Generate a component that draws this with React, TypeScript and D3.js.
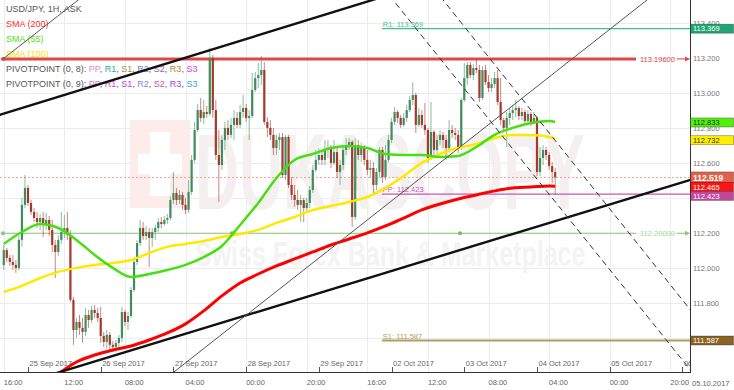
import React from "react";
import * as d3 from "d3";

// ---------- DATA (hours counted from 25 Sep 2017 00:00, weekend skipped) ----------
const FIRST_BAR_HOUR = -8; // 24 Sep 16:00
const FIRST_OPEN = 112.019;

const closes = [
  112.104,112.059,112.036,112.019,112.002,112.162,112.362,112.459,112.373,112.322,
  112.287,112.264,112.287,112.247,112.276,112.219,112.133,112.093,112.162,112.207,
  112.230,112.190,111.819,111.647,111.693,111.659,111.636,111.733,111.704,111.762,
  111.744,111.716,111.613,111.579,111.619,111.562,111.550,111.573,111.602,111.750,
  111.693,111.727,111.876,112.036,112.144,112.230,112.184,112.207,112.173,112.207,
  112.230,112.264,112.253,112.276,112.287,112.390,112.430,112.390,112.419,112.362,
  112.333,112.436,112.619,112.790,112.904,112.859,112.893,112.882,113.202,112.904,
  112.647,112.590,112.733,112.802,112.762,112.819,112.859,112.819,112.893,112.916,
  112.859,112.870,113.019,113.087,113.104,113.133,112.836,112.802,112.762,112.687,
  112.733,112.750,112.533,112.750,112.476,112.419,112.390,112.362,112.390,112.344,
  112.373,112.447,112.562,112.619,112.647,112.619,112.676,112.687,112.602,112.664,
  112.550,112.590,112.676,112.704,112.722,112.293,112.704,112.647,112.687,112.619,
  112.562,112.573,112.476,112.550,112.676,112.521,112.619,112.733,112.836,112.893,
  112.859,112.819,112.859,112.904,112.962,112.990,112.819,112.876,112.819,112.790,
  112.630,112.779,112.676,112.733,112.762,112.733,112.687,112.790,112.773,112.762,
  112.687,112.962,113.087,113.162,113.104,113.144,113.133,112.973,113.133,113.064,
  113.030,113.053,113.087,112.950,112.847,112.802,112.859,112.887,112.904,112.916,
  112.870,112.893,112.842,112.882,112.836,112.859,112.550,112.630,112.676,112.647,
  112.584,112.550,112.519,
];
const highs = [
  112.133,112.116,112.076,112.076,112.047,112.184,112.402,112.533,112.476,112.390,
  112.344,112.322,112.310,112.322,112.316,112.299,112.276,112.162,112.190,112.322,
  112.304,112.322,112.219,111.836,111.716,111.733,111.716,111.773,111.762,111.784,
  111.790,111.773,111.779,111.636,111.647,111.636,111.584,111.590,111.619,111.779,
  111.762,111.750,111.893,112.059,112.162,112.276,112.264,112.242,112.230,112.230,
  112.247,112.287,112.293,112.299,112.310,112.413,112.550,112.459,112.447,112.436,
  112.402,112.504,112.647,112.836,112.939,112.973,112.962,112.927,113.259,113.219,
  112.962,112.790,112.762,112.836,112.847,112.859,112.904,112.893,112.933,112.990,
  112.939,112.904,113.116,113.122,113.173,113.213,113.179,112.864,112.847,112.802,
  112.762,112.773,112.773,112.762,112.762,112.521,112.476,112.447,112.419,112.402,
  112.402,112.470,112.590,112.676,112.687,112.676,112.733,112.733,112.704,112.733,
  112.687,112.619,112.704,112.744,112.744,112.733,112.744,112.733,112.716,112.704,
  112.676,112.619,112.607,112.573,112.693,112.693,112.704,112.762,112.859,112.922,
  112.904,112.876,112.887,112.933,112.984,113.064,113.002,112.916,112.904,112.944,
  112.802,112.950,112.790,112.762,112.790,112.779,112.762,112.847,112.819,112.802,
  112.790,112.973,113.173,113.179,113.179,113.167,113.190,113.162,113.156,113.162,
  113.104,113.087,113.122,113.133,113.087,112.859,112.893,112.916,112.933,112.962,
  112.927,112.916,112.904,112.904,112.893,112.893,112.870,112.693,112.704,112.693,
  112.664,112.607,112.573,
];
const lows = [
  111.990,112.036,112.013,111.990,111.973,111.990,112.122,112.344,112.356,112.304,
  112.264,112.230,112.219,112.179,112.219,112.184,112.093,111.944,112.070,112.139,
  112.173,112.162,111.807,111.562,111.602,111.619,111.573,111.613,111.659,111.687,
  111.716,111.693,111.573,111.550,111.539,111.533,111.522,111.533,111.544,111.579,
  111.670,111.647,111.716,111.864,112.019,112.127,112.162,112.162,112.007,112.122,
  112.162,112.207,112.230,112.242,112.253,112.276,112.367,112.362,112.367,112.333,
  112.310,112.316,112.419,112.602,112.779,112.836,112.824,112.859,112.870,112.859,
  112.619,112.379,112.562,112.676,112.733,112.744,112.733,112.802,112.802,112.859,
  112.836,112.733,112.859,113.007,113.030,113.047,112.819,112.750,112.733,112.647,
  112.647,112.676,112.516,112.504,112.459,112.390,112.350,112.333,112.264,112.264,
  112.322,112.344,112.430,112.550,112.590,112.590,112.590,112.630,112.573,112.590,
  112.516,112.476,112.562,112.647,112.676,112.236,112.276,112.619,112.607,112.590,
  112.533,112.516,112.430,112.447,112.516,112.487,112.504,112.602,112.716,112.819,
  112.830,112.802,112.807,112.836,112.893,112.933,112.773,112.807,112.802,112.762,
  112.602,112.619,112.636,112.647,112.704,112.687,112.619,112.676,112.744,112.733,
  112.659,112.676,112.950,113.047,113.087,113.076,113.116,112.950,112.962,113.047,
  113.007,113.007,113.030,112.933,112.819,112.779,112.693,112.819,112.847,112.864,
  112.847,112.847,112.819,112.830,112.813,112.824,112.527,112.527,112.590,112.619,
  112.562,112.487,112.419,
];

const smaHours = [-8,-2,4,10,16,22,28,34,40,46,52,58,64,70,76,82,88,94,100,106,112,118,124,130,136,142,148,154,160,166,172,174];
const sma55 = [
  112.139,112.207,112.253,112.230,112.162,112.076,112.002,111.950,111.967,111.990,
  112.019,112.064,112.127,112.247,112.373,112.516,112.619,112.653,112.687,112.699,
  112.687,112.653,112.647,112.647,112.636,112.642,112.693,112.762,112.802,112.830,
  112.842,112.836,
];
const sma100 = [
  111.864,111.899,111.944,111.979,112.002,112.019,112.030,112.047,112.087,112.122,
  112.139,112.156,112.179,112.196,112.219,112.259,112.293,112.333,112.356,112.379,
  112.407,112.459,112.527,112.602,112.653,112.687,112.710,112.744,112.762,112.762,
  112.750,112.739,
];
const sma200Hours = smaHours.slice(3);
const sma200 = [
  111.396,111.464,111.504,111.533,111.556,111.590,111.630,111.682,111.756,111.842,
  111.916,111.967,112.013,112.053,112.093,112.133,112.167,112.202,112.242,112.287,
  112.333,112.367,112.396,112.419,112.442,112.459,112.464,112.470,112.468,
];

const dayLabels = ["25 Sep 2017","26 Sep 2017","27 Sep 2017","28 Sep 2017","29 Sep 2017","02 Oct 2017","03 Oct 2017","04 Oct 2017","05 Oct 2017","06 Oct 2017"];
const dayHours = [0,24,48,72,96,120,144,168,192,216];
const hourLabels = ["16:00","12:00","08:00","04:00","00:00","20:00","16:00","12:00","08:00","04:00","00:00","20:00"];
const hourTicks = [-8,12,32,52,72,92,112,132,152,172,192,212];
const priceTicks = [113.4,113.2,113.0,112.8,112.6,112.4,112.2,112.0,111.8,111.6];

const pivotStartHour = 116.8;
const pivotNames = ["R1","PP","S1"];
const pivotValues = [113.369,112.423,111.587];
const pivotColors = ["#3fbf8e","#cc55b2","#b49a66"];

const levelStartHour = -8.25;
const levelValues = [113.196, 112.2];
const levelLabels = ["113.19600","112.20000"];
const levelColors = ["#e04848","#86c878"];
const levelDotHours = [67.3, 142.6];

const channelThick = [[[0,112.926],[100,113.460]],[[0,111.351],[200,112.407]]];
const channelThin = [[60,111.568],[180,113.202]];
const channelRay = [[-8.25,113.196],[0,113.308]];
const dashedLines = [[[130,113.328],[200,111.820]],[[150,113.251],[210,111.949]]];

const lastPrice = 112.519;

const boxValues = [113.369,112.833,112.732,112.519,112.465,112.423,111.587];
const boxFills = ["#20a672","#55ee11","#ffee00","#e0624e","#ff1414","#c0489a","#8a6424"];
const boxText = ["#ffffff","#1c3a10","#333333","#ffffff","#ffffff","#ffffff","#ffffff"];

// ---------- LAYOUT ----------
const W = 734, H = 390, PR = 690, PB = 372;
const FONT = "'Liberation Sans', Arial, sans-serif";

const xs = d3.scaleLinear().domain([-9.24, 218.5]).range([0, PR]);
const ys = d3.scaleLinear().domain([111.407, 113.533]).range([PB, 0]);
const fmt = d3.format(".3f");

function extLine(p1: number[], p2: number[], ray = false) {
  const x1 = xs(p1[0]), y1 = ys(p1[1]), x2 = xs(p2[0]), y2 = ys(p2[1]);
  const dx = x2 - x1, dy = y2 - y1;
  const t0 = ray ? 0 : -60, t1 = 60;
  return { x1: x1 + dx * t0, y1: y1 + dy * t0, x2: x1 + dx * t1, y2: y1 + dy * t1 };
}

export default function App() {
  const line = (hrs: number[], vals: number[]) =>
    d3.line<number>().x((_, i) => xs(hrs[i])).y((v) => ys(v)).curve(d3.curveMonotoneX)(vals) || "";

  const candles = closes.map((c, i) => {
    const o = i === 0 ? FIRST_OPEN : closes[i - 1];
    const x = xs(FIRST_BAR_HOUR + i);
    const up = c >= o;
    const top = ys(Math.max(o, c));
    const bot = ys(Math.min(o, c));
    const hi = ys(Math.max(highs[i], o, c));
    const lo = ys(Math.min(lows[i], o, c));
    const col = up ? "#3f8d5e" : "#a5392b";
    return (
      <g key={i}>
        <line x1={x} x2={x} y1={hi} y2={lo} stroke={col} strokeOpacity={0.6} strokeWidth={1} />
        <rect x={x - 1.1} y={top} width={2.2} height={Math.max(1, bot - top)} fill={col} />
      </g>
    );
  });

  // stack the axis value boxes so they do not cover each other
  const boxPos: number[] = [];
  const order = boxValues.map((v, i) => i).sort((a, b) => ys(boxValues[a]) - ys(boxValues[b]));
  let prev = -100;
  order.forEach((i) => {
    let y = ys(boxValues[i]);
    if (y < prev + 9) y = prev + 9;
    boxPos[i] = y;
    prev = y;
  });

  const legendRow1 = [["PP","#e08ad2"],["R1","#2fb380"],["S1","#a88a48"],["R2","#6f86cc"],["S2","#8e6c9c"],["R3","#b48444"],["S3","#e040e0"]];
  const legendRow2 = [["PP","#e070e0"],["R1","#d248d2"],["S1","#b648d8"],["R2","#8a80e4"],["S2","#c452a8"],["R3","#a846c4"],["S3","#40a6c8"]];

  const legendPivot = (label: string, items: string[][], y: number) => (
    <text x={6} y={y} fontSize={9} fontFamily={FONT} fill="#555">
      {label}
      {items.map((it, i) => (
        <React.Fragment key={i}>
          <tspan fill={it[1]}>{it[0]}</tspan>
          {i < items.length - 1 ? <tspan fill="#555">, </tspan> : null}
        </React.Fragment>
      ))}
    </text>
  );

  return (
    <svg width={W} height={H} style={{ position: "fixed", left: 0, top: 0, background: "#fff" }}>
      <defs>
        <clipPath id="plot"><rect x={0} y={0} width={PR} height={PB} /></clipPath>
      </defs>
      <rect x={0} y={0} width={W} height={H} fill="#fff" />

      {/* grid */}
      <g stroke="#ececec" strokeWidth={1}>
        {priceTicks.map((p, i) => (
          <line key={"h" + i} x1={0} x2={PR} y1={Math.round(ys(p)) + 0.5} y2={Math.round(ys(p)) + 0.5} />
        ))}
        {hourTicks.map((h, i) => (
          <line key={"v" + i} x1={Math.round(xs(h)) + 0.5} x2={Math.round(xs(h)) + 0.5} y1={0} y2={PB} />
        ))}
      </g>

      {/* watermark */}
      <g>
        <rect x={130} y={120} width={60} height={88} fill="#fcecec" />
        <rect x={150} y={132} width={20} height={64} fill="#ffffff" />
        <rect x={138} y={154} width={44} height={20} fill="#ffffff" />
        <text transform="translate(195,209) scale(1,1.75)" x={0} y={0} fontFamily={FONT} fontWeight="bold" fontSize={61} fill="#f4f0f0">DUKASCOPY</text>
        <text transform="translate(195,266) scale(1,1.4)" x={0} y={0} fontFamily={FONT} fontWeight="bold" fontSize={25} fill="#f3f3f3">Swiss Forex Bank &amp; Marketplace</text>
      </g>

      {/* legend */}
      <g>
        <text x={6} y={12} fontSize={9} fontFamily={FONT} fill="#555">USD/JPY, 1H, ASK</text>
        <text x={6} y={27} fontSize={9} fontFamily={FONT} fill="#ff3030">SMA (200)</text>
        <text x={6} y={42} fontSize={9} fontFamily={FONT} fill="#55e020">SMA (55)</text>
        <text x={6} y={57} fontSize={9} fontFamily={FONT} fill="#f2e200">SMA (100)</text>
        {legendPivot("PIVOTPOINT (0, 8): ", legendRow1, 72)}
        {legendPivot("PIVOTPOINT (0, 9): ", legendRow2, 87)}
      </g>

      <g clipPath="url(#plot)">
        {/* current price dotted */}
        <line x1={0} x2={PR} y1={ys(lastPrice)} y2={ys(lastPrice)} stroke="#f0a090" strokeWidth={1} strokeDasharray="2,2" />

        {/* pivot levels */}
        {pivotValues.map((v, i) => (
          <g key={"pv" + i}>
            <line x1={xs(pivotStartHour)} x2={PR} y1={ys(v)} y2={ys(v)} stroke={pivotColors[i]} strokeWidth={i === 2 ? 2 : 1.2} />
            <text x={xs(pivotStartHour) + 1} y={ys(v) - 2} fontSize={7.5} fontFamily={FONT} fill={pivotColors[i]}>
              {pivotNames[i]}: {fmt(v)}
            </text>
          </g>
        ))}

        {/* horizontal levels */}
        {levelValues.map((v, i) => {
          const y = ys(v);
          return (
            <g key={"lv" + i}>
              <line x1={xs(levelStartHour)} x2={636} y1={y} y2={y} stroke={levelColors[i]} strokeWidth={i === 0 ? 3 : 1} />
              <line x1={677} x2={686} y1={y} y2={y} stroke={levelColors[i]} strokeWidth={1} />
              <polygon points={`${PR},${y} ${PR - 5},${y - 2.5} ${PR - 5},${y + 2.5}`} fill={levelColors[i]} />
              <text x={640} y={y + 2.6} fontSize={7.5} fontFamily={FONT} fill={i === 0 ? "#e04848" : "#a8d8a0"}>{levelLabels[i]}</text>
              <circle cx={xs(levelStartHour)} cy={y} r={2} fill={levelColors[i]} />
            </g>
          );
        })}
        {levelDotHours.map((h, i) => (
          <circle key={"ld" + i} cx={xs(h)} cy={ys(levelValues[1])} r={2} fill="#6cbf5c" />
        ))}

        {/* candles */}
        <g>{candles}</g>

        {/* SMAs */}
        <path d={line(sma200Hours, sma200)} fill="none" stroke="#ff0000" strokeWidth={3} />
        <path d={line(smaHours, sma100)} fill="none" stroke="#ffe900" strokeWidth={2.5} />
        <path d={line(smaHours, sma55)} fill="none" stroke="#45e010" strokeWidth={2.5} />

        {/* trend lines */}
        {channelThick.map((l, i) => {
          const e = extLine(l[0], l[1]);
          return <line key={"ct" + i} {...e} stroke="#111" strokeWidth={2.4} />;
        })}
        {(() => { const e = extLine(channelThin[0], channelThin[1]); return <line {...e} stroke="#555" strokeWidth={1} />; })()}
        {(() => { const e = extLine(channelRay[0], channelRay[1], true); return <line {...e} stroke="#555" strokeWidth={1} />; })()}
        {dashedLines.map((l, i) => {
          const e = extLine(l[0], l[1]);
          return <line key={"dl" + i} {...e} stroke="#333" strokeWidth={1} strokeDasharray="6,4" />;
        })}

        {/* date labels above axis */}
        {dayHours.map((h, i) => (
          <g key={"d" + i}>
            <line x1={Math.round(xs(h)) + 0.5} x2={Math.round(xs(h)) + 0.5} y1={PB - 5} y2={PB} stroke="#555" />
            <text x={xs(h) + 1.5} y={PB - 6} fontSize={7.5} fontFamily={FONT} fill="#666">{dayLabels[i]}</text>
          </g>
        ))}
      </g>

      {/* axes */}
      <line x1={PR + 0.5} x2={PR + 0.5} y1={0} y2={PB + 1} stroke="#333" strokeWidth={1} />
      <line x1={0} x2={PR + 1} y1={PB + 0.5} y2={PB + 0.5} stroke="#333" strokeWidth={1} />

      {priceTicks
        .filter((p) => boxPos.every((by) => Math.abs(by - ys(p)) >= 5))
        .map((p, i) => (
          <text key={"pt" + i} x={PR + 3} y={ys(p) + 2.7} fontSize={7.5} fontFamily={FONT} fill="#777">{fmt(p)}</text>
        ))}
      {hourTicks.map((h, i) => (
        <text key={"ht" + i} x={xs(h)} y={385} fontSize={7.5} fontFamily={FONT} fill="#666">{hourLabels[i]}</text>
      ))}
      <text x={PR + 2} y={385.5} fontSize={7.5} fontFamily={FONT} fill="#666">05.10.2017</text>

      {/* axis value boxes */}
      {boxValues.map((v, i) => {
        const y = boxPos[i];
        const big = v === lastPrice;
        const h = big ? 11 : 9;
        return (
          <g key={"bx" + i}>
            <rect x={PR + 0.5} y={y - h / 2} width={43} height={h} fill={boxFills[i]} stroke="rgba(0,0,0,0.35)" strokeWidth={0.8} />
            <text x={PR + 3} y={y + (big ? 3.1 : 2.7)} fontSize={big ? 8.5 : 7.5} fontWeight={big ? "bold" : "normal"} fontFamily={FONT} fill={boxText[i]}>{fmt(v)}</text>
          </g>
        );
      })}
    </svg>
  );
}
